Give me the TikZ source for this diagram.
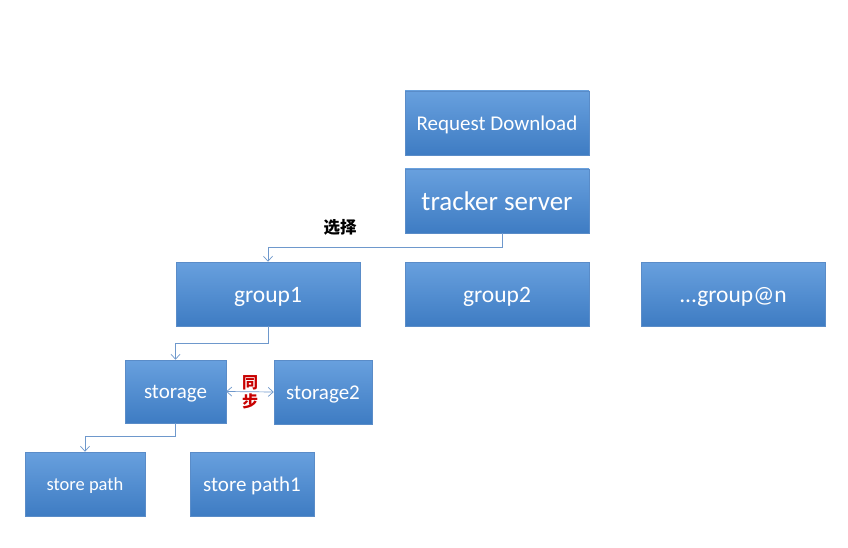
\documentclass[tikz,border=0pt]{standalone}
\usepackage{fontspec}
\setmainfont{Carlito}
\newfontfamily\cjk{Noto Sans CJK SC}
\usetikzlibrary{arrows.meta}

\definecolor{boxtop}{RGB}{104,160,222}
\definecolor{boxbottom}{RGB}{62,124,195}
\definecolor{boxline}{RGB}{90,140,200}
\definecolor{linkline}{RGB}{110,152,204}
\definecolor{syncred}{RGB}{200,0,0}

\begin{document}
\begin{tikzpicture}[x=1pt, y=-1pt,
		box/.style = {draw = boxline, line width = 0.5pt, top color = boxtop, bottom color = boxbottom,
			text = white, minimum height = 64pt, minimum width = 184pt, inner sep = 0pt,
			font = \fontsize{#1}{#1}\selectfont, text height = {0.74*#1pt}, text depth = {0.05*#1pt}},
		link/.style = {draw = linkline, line width = 0.7pt, -{Straight Barb[length = 5pt, width = 9pt]}}]
		\useasboundingbox (0,0) rectangle (848,548);
		\fill[white] (0,0) rectangle (848,548);
		
		\node [box = 21] (request) at (497,123) {Request Download};
		\node [box = 27] (tracker) at (497,201) {tracker server};
		
		\node [box = 23.5] (group1) at (268,294) {group1};
		\node [box = 23.5] (group2) at (497,294) {group2};
		\node [box = 23.5] (groupn) at (733,294) {...group@n};
		
		\node [box = 21, minimum width = 101pt, minimum height = 63pt] (storage) at (175.5,391.5) {storage};
		\node [box = 21, minimum width = 98pt] (storage2) at (323,392) {storage2};
		
		\node [box = 18.5, minimum width = 120pt] (store path) at (85,484) {store path};
		\node [box = 21, minimum width = 124pt] (store path1) at (252,484) {store path1};
		
		\draw [link] ([xshift = 5pt] tracker.south) -- ++(0,14) coordinate (select corner) -| (group1.north);
		\node [font = \cjk\bfseries\fontsize{16.5}{18}\selectfont] (select) at (340,227) {选择};
		
		\draw [link] (group1.south) -- ++(0,17) -| (storage.north);
		\draw [link, {Straight Barb[length = 5pt, width = 9pt]}-{Straight Barb[length = 5pt, width = 9pt]}] (storage.east) -- (storage2.west);
		\node [font = \cjk\bfseries\fontsize{16}{19}\selectfont, text = syncred, align = center] (sync) at (250,392) {同\\步};
		
		\draw [link] (storage.south) -- ++(0,13) -| (store path.north);
	\end{tikzpicture}
\end{document}
